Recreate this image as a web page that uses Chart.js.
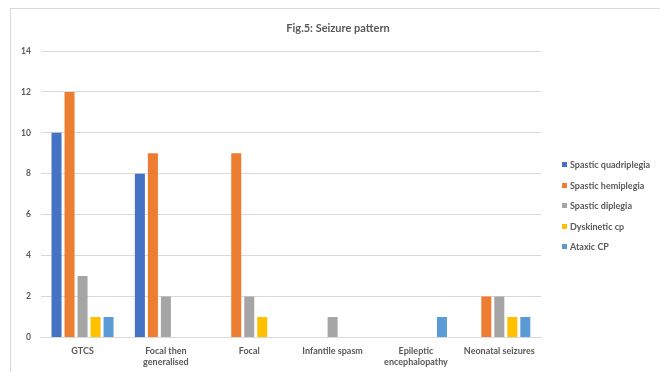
<!DOCTYPE html>
<html>
<head>
<meta charset="utf-8">
<script src="https://cdn.jsdelivr.net/npm/chart.js@4.4.0/dist/chart.umd.min.js"></script>
<style>
  html, body { margin: 0; padding: 0; background: #fff; overflow: hidden; }
  #frame {
    position: absolute; left: 10px; top: 8px;
    width: 660px; height: 372px;
    border: 1px solid #d9d9d9;
  }
  #chartBox { position: absolute; left: 0; top: 0; width: 650px; height: 364px; }
  #title {
    position: absolute; left: 0; top: 12px; width: 654px;
    text-align: center; font: bold 11px Lato, 'Open Sans', sans-serif; color: #595959;
  }
  #legend {
    position: absolute; left: 551px; top: 150px;
    margin: 0; padding: 0; list-style: none;
    font: bold 9px Lato, 'Open Sans', sans-serif; color: #595959;
  }
  #legend li { height: 20.6px; line-height: 12px; white-space: nowrap; }
  #legend span {
    display: inline-block; width: 5px; height: 5px;
    margin-right: 3px; vertical-align: 1px;
  }
</style>
</head>
<body>
<div id="frame">
  <div id="chartBox"><canvas id="seizureChart"></canvas></div>
  <div id="title">Fig.5: Seizure pattern</div>
  <ul id="legend"></ul>
</div>
<script>
// categories along the x axis
const categories = [
  "GTCS",
  ["Focal then", "generalised"],
  "Focal",
  "Infantile spasm",
  ["Epileptic", "encephalopathy"],
  "Neonatal seizures"
];

// one array per CP type
const spasticQuadriplegia = [10, 8, 0, 0, 0, 0];
const spasticHemiplegia = [12, 9, 9, 0, 0, 2];
const spasticDiplegia = [3, 2, 2, 1, 0, 2];
const dyskineticCp = [1, 0, 1, 0, 0, 1];
const ataxicCp = [1, 0, 0, 0, 1, 1];

const yTicks = [0, 2, 4, 6, 8, 10, 12, 14];

const textColor = "#595959";
const gridColor = "#d9d9d9";
const fontFamily = "Lato, 'Open Sans', sans-serif";

const ctx = document.getElementById("seizureChart").getContext("2d");
const chart = new Chart(ctx, {
  type: "bar",
  data: {
    labels: categories,
    datasets: [
      { label: "Spastic quadriplegia", data: spasticQuadriplegia, backgroundColor: "#4472c4" },
      { label: "Spastic hemiplegia", data: spasticHemiplegia, backgroundColor: "#ed7d31" },
      { label: "Spastic diplegia", data: spasticDiplegia, backgroundColor: "#a5a5a5" },
      { label: "Dyskinetic cp", data: dyskineticCp, backgroundColor: "#ffc000" },
      { label: "Ataxic CP", data: ataxicCp, backgroundColor: "#5b9bd5" }
    ]
  },
  options: {
    responsive: true,
    maintainAspectRatio: false,
    animation: false,
    datasets: {
      bar: { categoryPercentage: 0.78, barPercentage: 0.77 }
    },
    layout: { padding: { left: 0, right: 120, top: 42, bottom: 6 } },
    plugins: {
      legend: { display: false },
      tooltip: { enabled: false }
    },
    scales: {
      x: {
        grid: { display: false },
        border: { color: gridColor },
        ticks: {
          color: textColor,
          font: { family: fontFamily, size: 9, weight: "bold" },
          maxRotation: 0,
          autoSkip: false,
          padding: 0
        }
      },
      y: {
        min: 0,
        max: 14,
        afterBuildTicks: (axis) => { axis.ticks = yTicks.map((v) => ({ value: v })); },
        grid: { color: gridColor, drawTicks: false },
        border: { display: false },
        ticks: {
          color: textColor,
          font: { family: fontFamily, size: 8.5, weight: "bold" },
          padding: 10
        }
      }
    }
  }
});

// legend built from the chart's own datasets
const legendEl = document.getElementById("legend");
chart.data.datasets.forEach((ds) => {
  const li = document.createElement("li");
  const box = document.createElement("span");
  box.style.background = ds.backgroundColor;
  li.appendChild(box);
  li.appendChild(document.createTextNode(ds.label));
  legendEl.appendChild(li);
});
</script>
</body>
</html>
